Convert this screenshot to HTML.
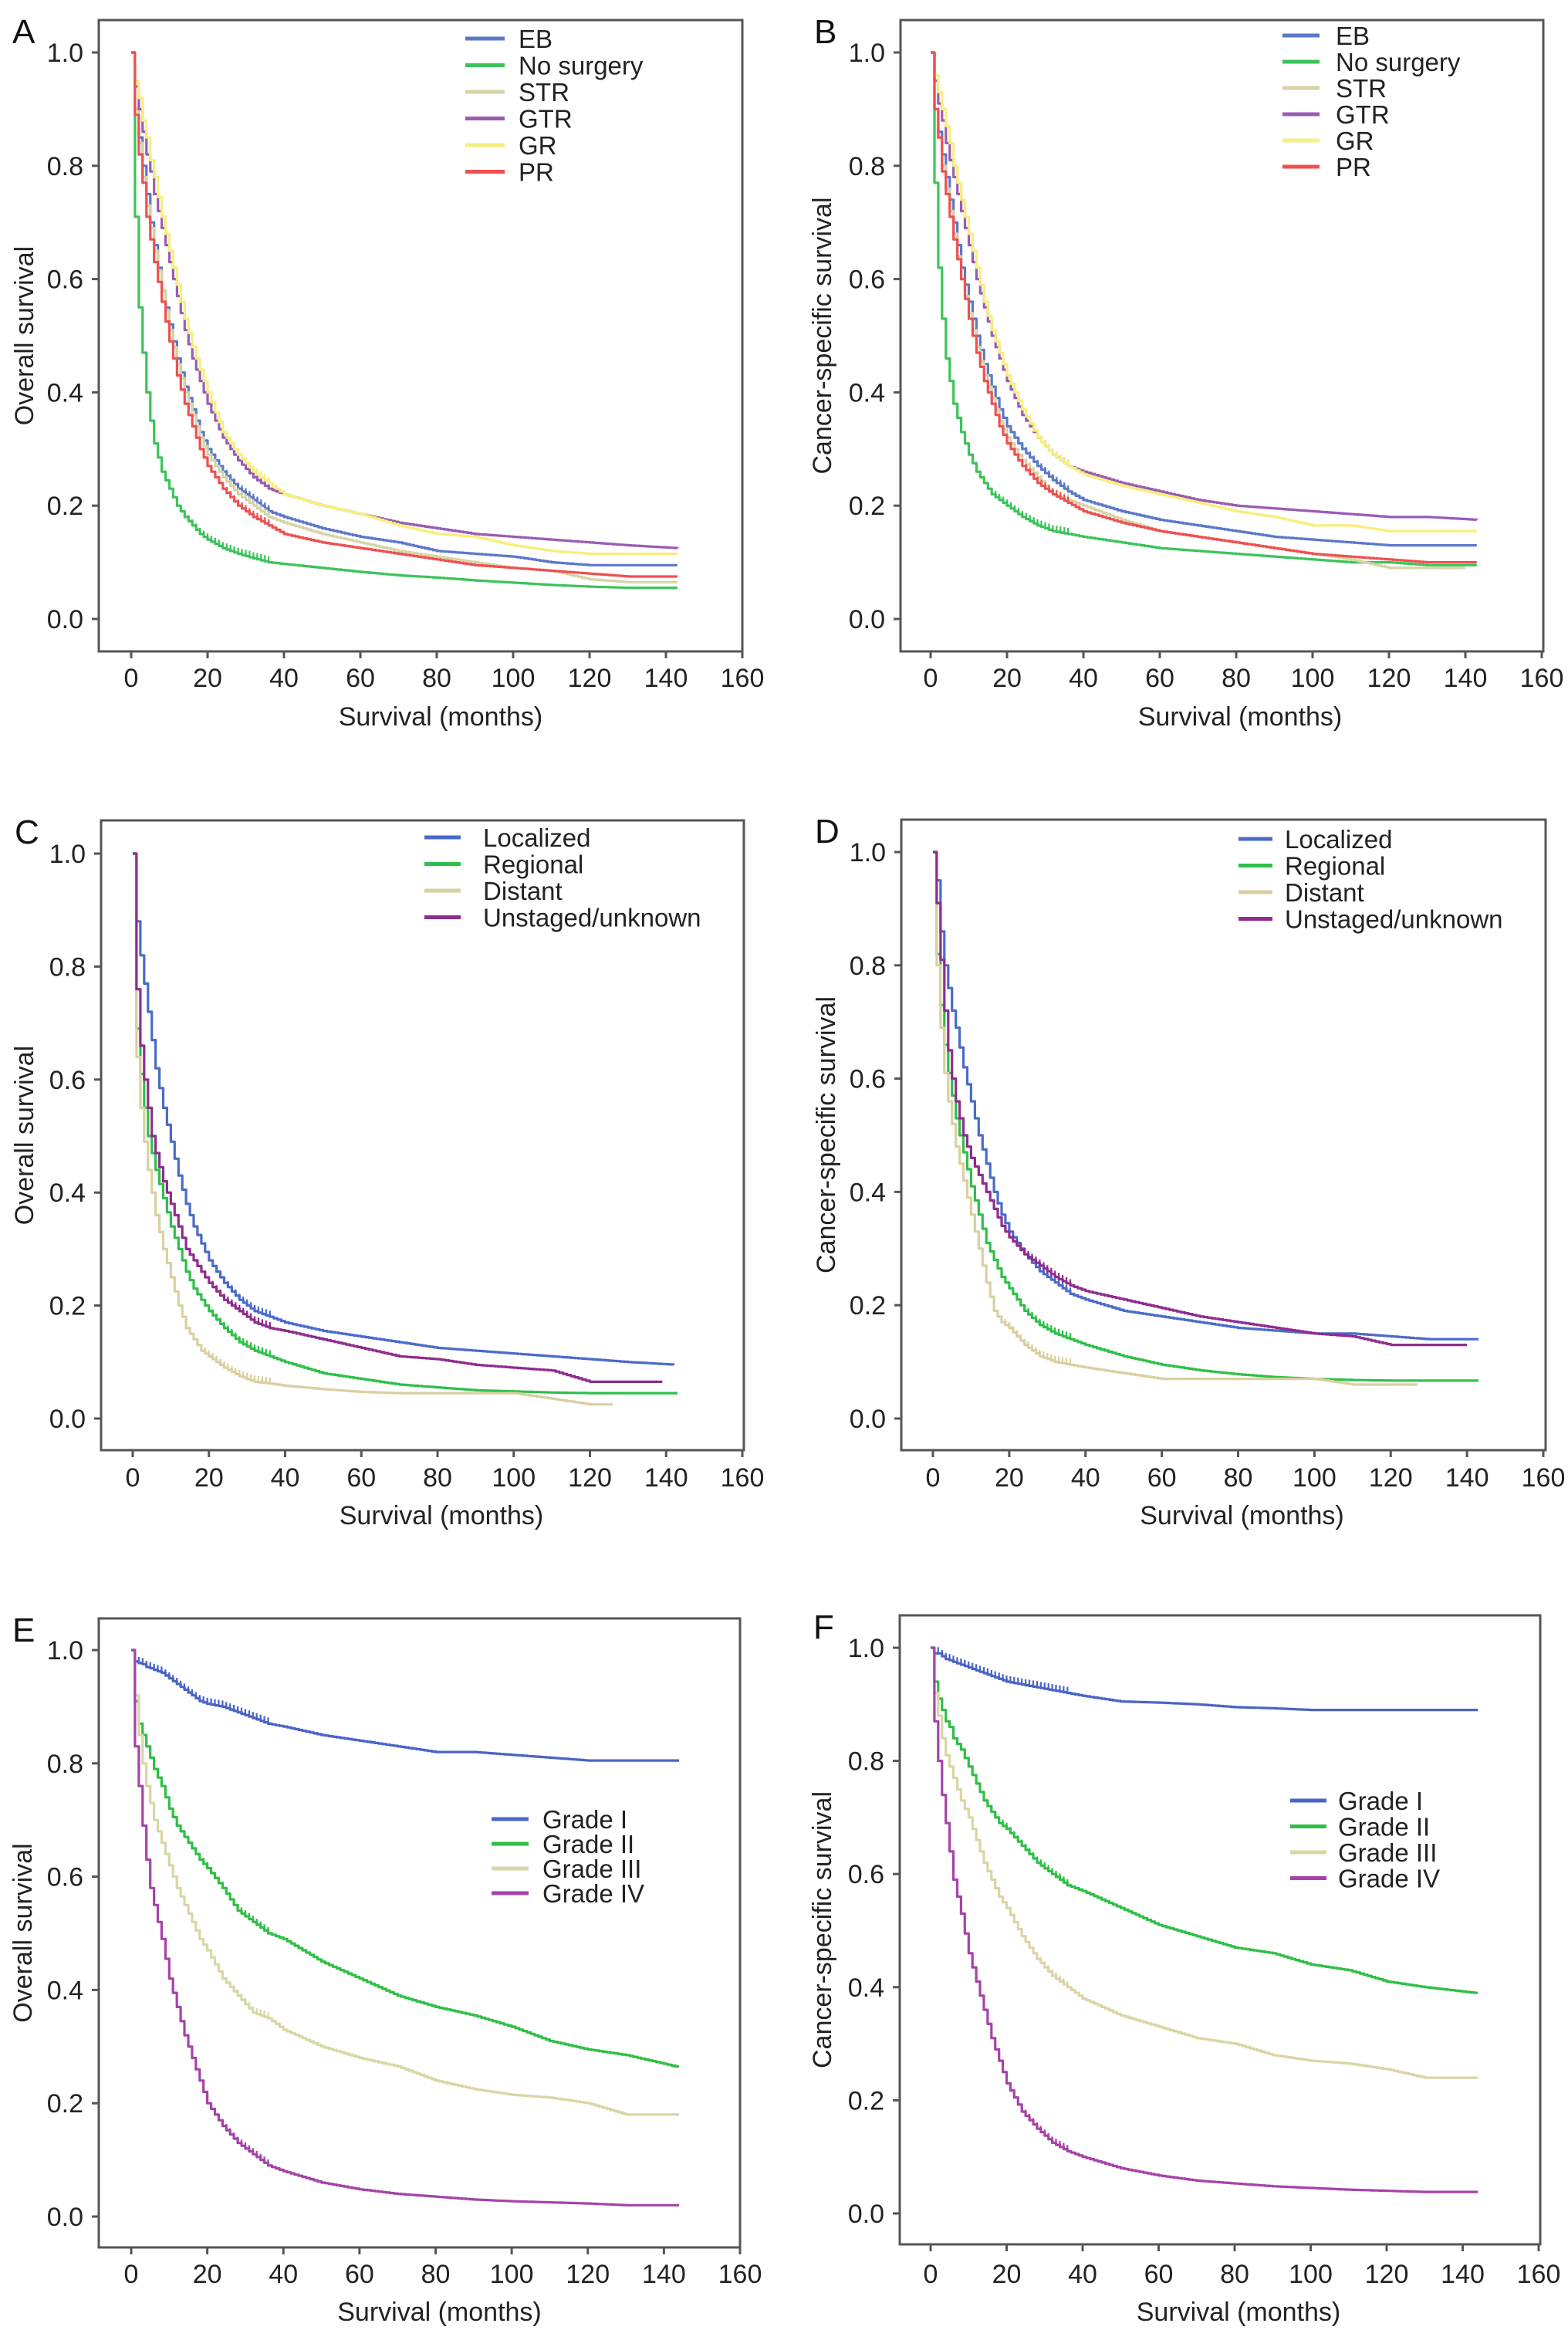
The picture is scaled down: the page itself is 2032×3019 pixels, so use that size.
<!DOCTYPE html>
<html><head><meta charset="utf-8"><style>
html,body{margin:0;padding:0;background:#fff;}
svg{display:block;font-family:"Liberation Sans",Arial,sans-serif;}
</style></head><body>
<svg id="fig" width="2032" height="3019" viewBox="0 0 2032 3019" xmlns="http://www.w3.org/2000/svg"></svg>
<script>
const times = [0,1,2,3,4,5,6,8,10,12,14,16,18,20,24,28,32,36,40,50,60,70,80,90,100,110,120,130,143];
const xTicks = [0,20,40,60,80,100,120,140,160];
const yTicks = [0.0,0.2,0.4,0.6,0.8,1.0];

const surgeryNames = ["EB","No surgery","STR","GTR","GR","PR"];
const surgeryColors = ["#5b78c9","#3cc35a","#d6d4a6","#9b5bb3","#f6ef7c","#ef5050"];
const stageNames = ["Localized","Regional","Distant","Unstaged/unknown"];
const stageColors = ["#4a6bc8","#2fbf4a","#d9d0a0","#8e2d8e"];
const gradeNames = ["Grade I","Grade II","Grade III","Grade IV"];
const gradeColors = ["#4a64c6","#2fbf45","#d9d6a4","#a543a8"];

const aEB  = [1,.9,.85,.8,.75,.7,.66,.58,.52,.46,.41,.37,.33,.30,.26,.23,.21,.19,.18,.16,.145,.135,.12,.115,.11,.1,.095,.095,.095];
const aNo  = [1,.71,.55,.47,.4,.35,.31,.26,.23,.2,.18,.165,.15,.14,.125,.115,.107,.1,.097,.09,.083,.077,.073,.068,.064,.06,.057,.055,.055];
const aSTR = [1,.9,.84,.78,.73,.69,.65,.58,.51,.45,.40,.36,.32,.29,.25,.22,.2,.18,.17,.15,.135,.12,.11,.1,.09,.085,.07,.065,.065];
const aGTR = [1,.94,.9,.86,.82,.79,.75,.69,.63,.57,.51,.46,.42,.38,.32,.28,.25,.23,.22,.2,.185,.17,.16,.15,.145,.14,.135,.13,.125];
const aGR  = [1,.95,.92,.88,.85,.81,.78,.71,.65,.59,.53,.48,.44,.40,.33,.29,.26,.24,.22,.20,.185,.165,.15,.145,.13,.12,.115,.115,.115];
const aPR  = [1,.89,.82,.77,.71,.67,.63,.56,.49,.43,.38,.34,.30,.27,.23,.2,.18,.165,.15,.135,.125,.115,.105,.095,.09,.085,.08,.075,.075];
const bEB  = [1,.9,.86,.82,.78,.74,.7,.62,.56,.5,.45,.41,.37,.34,.3,.27,.245,.225,.21,.19,.175,.165,.155,.145,.14,.135,.13,.13,.13];
const bNo  = [1,.77,.62,.53,.46,.42,.38,.33,.29,.26,.24,.22,.21,.20,.18,.165,.155,.15,.145,.135,.125,.12,.115,.11,.105,.1,.1,.095,.095];
const bSTR = [1,.9,.85,.8,.76,.72,.68,.6,.54,.48,.43,.39,.35,.32,.28,.25,.22,.21,.2,.175,.155,.145,.135,.125,.115,.105,.09,.09,.09];
const bGTR = [1,.95,.91,.88,.84,.81,.78,.72,.66,.60,.55,.50,.46,.42,.36,.32,.29,.27,.26,.24,.225,.21,.2,.195,.19,.185,.18,.18,.175];
const bGR  = [1,.96,.93,.9,.87,.84,.8,.74,.68,.62,.56,.51,.47,.43,.37,.32,.29,.27,.255,.235,.22,.205,.19,.18,.165,.165,.155,.155,.155];
const bPR  = [1,.9,.85,.79,.75,.71,.67,.6,.53,.47,.42,.38,.34,.31,.27,.24,.22,.205,.19,.17,.155,.145,.135,.125,.115,.11,.105,.1,.1];
const cLoc = [1,.88,.82,.77,.72,.67,.62,.55,.49,.43,.38,.34,.31,.28,.24,.21,.19,.18,.17,.155,.145,.135,.125,.12,.115,.11,.105,.1,.095];
const cReg = [1,.69,.61,.55,.5,.47,.44,.39,.34,.3,.26,.23,.21,.19,.16,.135,.12,.11,.1,.08,.07,.06,.055,.05,.048,.046,.045,.045,.045];
const cDis = [1,.64,.55,.49,.44,.4,.36,.3,.25,.2,.16,.14,.12,.11,.09,.075,.065,.062,.058,.052,.047,.045,.045,.045,.045,.035,.025,.025,.025];
const cUns = [1,.76,.66,.6,.55,.5,.47,.42,.38,.34,.3,.28,.26,.24,.21,.19,.17,.16,.155,.14,.125,.11,.105,.095,.09,.085,.065,.065,.065];
const dLoc = [1,.95,.86,.8,.76,.72,.69,.62,.56,.5,.45,.4,.36,.33,.29,.26,.24,.22,.21,.19,.18,.17,.16,.155,.15,.15,.145,.14,.14];
const dReg = [1,.82,.73,.66,.61,.57,.53,.47,.41,.36,.31,.28,.25,.23,.19,.165,.15,.14,.13,.11,.095,.085,.078,.073,.07,.068,.067,.067,.067];
const dDis = [1,.8,.69,.61,.56,.52,.48,.42,.36,.3,.24,.19,.17,.16,.13,.11,.1,.095,.09,.08,.07,.07,.07,.07,.07,.06,.06,.06,.06];
const dUns = [1,.91,.81,.72,.65,.6,.56,.5,.46,.43,.4,.37,.34,.32,.29,.27,.25,.235,.225,.21,.195,.18,.17,.16,.15,.145,.13,.13,.13];
const eG1 = [1,.98,.977,.975,.97,.968,.965,.96,.95,.94,.93,.92,.91,.905,.9,.89,.88,.87,.865,.85,.84,.83,.82,.82,.815,.81,.805,.805,.805];
const eG2 = [1,.91,.87,.85,.83,.81,.79,.76,.72,.69,.67,.65,.63,.615,.58,.54,.52,.5,.49,.45,.42,.39,.37,.355,.335,.31,.295,.285,.265];
const eG3 = [1,.92,.85,.8,.76,.73,.7,.66,.62,.58,.55,.52,.49,.47,.42,.39,.36,.35,.33,.3,.28,.265,.24,.225,.215,.21,.2,.18,.18];
const eG4 = [1,.83,.76,.69,.63,.58,.55,.49,.42,.37,.32,.28,.24,.2,.16,.13,.11,.09,.08,.06,.048,.04,.035,.03,.027,.025,.023,.02,.02];
const fG1 = [1,.99,.99,.985,.98,.978,.975,.97,.965,.96,.955,.95,.945,.94,.935,.93,.925,.92,.915,.905,.903,.9,.895,.893,.89,.89,.89,.89,.89];
const fG2 = [1,.94,.91,.89,.87,.86,.84,.82,.79,.76,.73,.71,.69,.68,.65,.62,.6,.58,.57,.54,.51,.49,.47,.46,.44,.43,.41,.4,.39];
const fG3 = [1,.92,.88,.84,.81,.79,.77,.73,.7,.66,.62,.59,.56,.54,.49,.45,.42,.4,.38,.35,.33,.31,.3,.28,.27,.265,.255,.24,.24];
const fG4 = [1,.87,.8,.74,.69,.64,.59,.53,.46,.41,.36,.31,.27,.23,.18,.15,.125,.11,.1,.08,.067,.058,.053,.048,.045,.042,.04,.038,.038];

const panels = [
 {id:"a",letter:"A",ytitle:"Overall survival",frame:[128,26,962,844],x0:170,x160:962,y1:68,y0:802,ytx:31,xlab:878,xtitle:928,
  series:[aEB,aNo,aSTR,aGTR,aGR,aPR],ends:[143,143,143,143,143,143],names:surgeryNames,colors:surgeryColors,
  leg:{x1:603,x2:654,tx:672,y:50,dy:34.5}},
 {id:"b",letter:"B",ytitle:"Cancer-specific survival",frame:[1167,26,2000,844],x0:1206,x160:1998,y1:68,y0:802,ytx:1065,xlab:878,xtitle:928,
  series:[bEB,bNo,bSTR,bGTR,bGR,bPR],ends:[143,143,140,143,143,143],names:surgeryNames,colors:surgeryColors,
  leg:{x1:1662,x2:1710,tx:1731,y:46,dy:34}},
 {id:"c",letter:"C",ytitle:"Overall survival",frame:[131,1063,964,1879],x0:172,x160:962,y1:1106,y0:1838,ytx:31,xlab:1914,xtitle:1963,
  series:[cLoc,cReg,cDis,cUns],ends:[142,143,126,139],names:stageNames,colors:stageColors,
  leg:{x1:550,x2:597,tx:626,y:1085,dy:34.5}},
 {id:"d",letter:"D",ytitle:"Cancer-specific survival",frame:[1168,1062,2003,1879],x0:1209,x160:2000,y1:1104,y0:1838,ytx:1070,xlab:1914,xtitle:1963,
  series:[dLoc,dReg,dDis,dUns],ends:[143,143,127,140],names:stageNames,colors:stageColors,
  leg:{x1:1605,x2:1649,tx:1665,y:1087,dy:34.5}},
 {id:"e",letter:"E",ytitle:"Overall survival",frame:[128,2097,959,2912],x0:170,x160:959,y1:2138,y0:2872,ytx:29,xlab:2946,xtitle:2995,
  series:[eG1,eG2,eG3,eG4],ends:[144,144,144,144],names:gradeNames,colors:gradeColors,
  leg:{x1:637,x2:685,tx:703,y:2357,dy:32}},
 {id:"f",letter:"F",ytitle:"Cancer-specific survival",frame:[1166,2093,1996,2908],x0:1206,x160:1994,y1:2135,y0:2868,ytx:1065,xlab:2946,xtitle:2995,
  series:[fG1,fG2,fG3,fG4],ends:[144,144,144,144],names:gradeNames,colors:gradeColors,
  leg:{x1:1672,x2:1719,tx:1734,y:2333,dy:33.5}}
];

const NS="http://www.w3.org/2000/svg";
const svg=document.getElementById("fig");
function mk(tag,attrs,parent){const e=document.createElementNS(NS,tag);for(const k in attrs)e.setAttribute(k,attrs[k]);(parent||svg).appendChild(e);return e;}

panels.forEach(p=>{
  const g=mk("g",{});
  
  
  const xs=t=>p.x0+(p.x160-p.x0)*t/160;
  const ys=v=>p.y0+(p.y1-p.y0)*v;
  const [l,t,r,b]=p.frame;
  p.series.forEach((vals,si)=>{
    const end=p.ends[si];
    let d="M"+xs(0).toFixed(1)+","+ys(vals[0]).toFixed(1);
    let ticks="";
    let done=false;
    for(let i=1;i<times.length && !done;i++){
      const t0=times[i-1],t1=times[i],v0=vals[i-1],v1=vals[i];
      const dt=t1-t0;
      const n=Math.max(1,Math.round(dt));
      for(let k=1;k<=n;k++){
        const tt=t0+dt*k/n;
        if(tt>end){done=true;break;}
        const vv=v0+(v1-v0)*k/n;
        d+=" H"+xs(tt).toFixed(1)+" V"+ys(vv).toFixed(1);
        if(tt<=36) ticks+=" M"+xs(tt).toFixed(1)+","+(ys(vv)-8).toFixed(1)+" v8";
      }
    }
    d+=" H"+xs(end).toFixed(1);
    const path=mk("path",{d:d,fill:"none",stroke:p.colors[si],"stroke-width":3.2,"stroke-linejoin":"round"},g);
    
    
    const tk=mk("path",{d:ticks,fill:"none",stroke:p.colors[si],"stroke-width":2.2},g);
    
    
  });
  const fr=mk("rect",{x:l,y:t,width:r-l,height:b-t,fill:"none",stroke:"#555","stroke-width":3},g);
  
  
  xTicks.forEach(v=>{
    const x=xs(v);
    const ln=mk("line",{x1:x,y1:b,x2:x,y2:b+9,stroke:"#555","stroke-width":3},g);
    
    
    const tx=mk("text",{x:x,y:p.xlab+12,"font-size":34,"text-anchor":"middle",fill:"#222"},g);
    tx.textContent=v;
    
    
  });
  yTicks.forEach(v=>{
    const y=ys(v);
    const ln=mk("line",{x1:l-9,y1:y,x2:l,y2:y,stroke:"#555","stroke-width":3},g);
    
    
    const tx=mk("text",{x:l-20,y:y+12,"font-size":34,"text-anchor":"end",fill:"#222"},g);
    tx.textContent=v.toFixed(1);
    
    
  });
  const xt=mk("text",{x:(p.x0+p.x160)/2+5,y:p.xtitle+12,"font-size":34,"text-anchor":"middle",fill:"#222"},g);
  xt.textContent="Survival (months)";
  
  
  const yc=(t+b)/2;
  const yt=mk("text",{x:0,y:0,"font-size":34,"text-anchor":"middle",fill:"#222",transform:"translate("+(p.ytx+12)+","+yc+") rotate(-90)"},g);
  yt.textContent=p.ytitle;
  
  
  const pl=mk("text",{x:l-112,y:t+30,"font-size":44,fill:"#111"},g);
  pl.textContent=p.letter;
  
  
  p.names.forEach((n,i)=>{
    const y=p.leg.y+i*p.leg.dy;
    const ll=mk("line",{x1:p.leg.x1,y1:y,x2:p.leg.x2,y2:y,stroke:p.colors[i],"stroke-width":5},g);
    
    
    const lt=mk("text",{x:p.leg.tx,y:y+12,"font-size":33,fill:"#222"},g);
    lt.textContent=n;
    
    
  });
});
</script>
</body></html>
